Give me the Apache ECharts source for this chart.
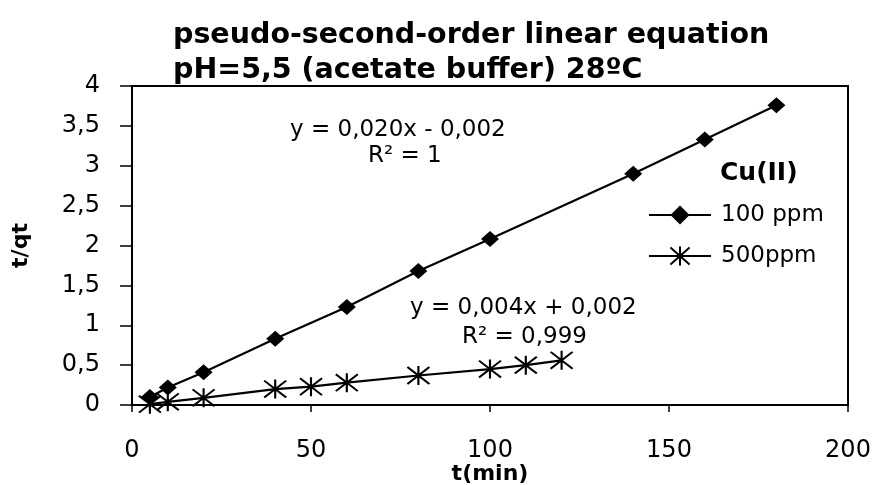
<!DOCTYPE html>
<html>
<head>
<meta charset="utf-8">
<script src="https://cdn.jsdelivr.net/npm/echarts@6/dist/echarts.min.js"></script>
<style>
  html, body { margin: 0; padding: 0; background: #fff; }
  #chart { width: 875px; height: 485px; }
</style>
</head>
<body>
<div id="chart"></div>
<script>
  // 100 ppm
  var time100 = [5, 10, 20, 40, 60, 80, 100, 140, 160, 180];
  var tq100 = [0.1, 0.22, 0.41, 0.83, 1.23, 1.68, 2.08, 2.9, 3.33, 3.76];
  // 500 ppm
  var time500 = [5, 10, 20, 40, 50, 60, 80, 100, 110, 120];
  var tq500 = [0.01, 0.04, 0.09, 0.2, 0.23, 0.28, 0.37, 0.45, 0.5, 0.56];
  var seriesNames = ['100 ppm', '500ppm'];

  var font = '"DejaVu Sans", sans-serif';
  var asterisk = 'path://M0,1L20,17M20,1L0,17M10,0L10,18';

  function pairs(xs, ys) {
    return xs.map(function (x, i) { return [x, ys[i]]; });
  }
  function comma(v) {
    return String(v).replace('.', ',');
  }
  function note(text, x, baseline) {
    return {
      type: 'text', x: x, y: baseline - 7,
      style: { text: text, font: '23px ' + font, fill: '#000', verticalAlign: 'middle' }
    };
  }

  var myChart = echarts.init(document.getElementById('chart'));
  var option = {
    backgroundColor: '#fff',
    animation: false,
    title: {
      text: 'pseudo-second-order linear equation\npH=5,5 (acetate buffer) 28ºC',
      left: 168,
      top: 13,
      textStyle: { fontFamily: font, fontSize: 28.5, fontWeight: 'bold', color: '#000', lineHeight: 35 }
    },
    grid: {
      left: 132, right: 27, top: 86, bottom: 80,
      outerBoundsMode: 'none',
      show: true, borderColor: '#000', borderWidth: 2
    },
    legend: {
      orient: 'vertical',
      left: 648, top: 203, padding: 0,
      itemWidth: 62, itemHeight: 24, itemGap: 17,
      textStyle: { fontFamily: font, fontSize: 23, color: '#000', lineHeight: 24, padding: [0, 0, 0, 5] },
      data: seriesNames
    },
    xAxis: {
      type: 'value', min: 0, max: 200, interval: 50,
      name: 't(min)', nameLocation: 'middle', nameGap: 58, nameMoveOverlap: false,
      nameTextStyle: { fontFamily: font, fontSize: 22, fontWeight: 'bold', color: '#000' },
      axisLine: { lineStyle: { color: '#000', width: 2 } },
      axisTick: { show: true, inside: false, length: 7, lineStyle: { color: '#000', width: 1.5 } },
      axisLabel: { fontFamily: font, fontSize: 24, color: '#000', margin: 34 },
      splitLine: { show: false }
    },
    yAxis: {
      type: 'value', min: 0, max: 4, interval: 0.5,
      name: 't/qt', nameLocation: 'middle', nameGap: 100, nameMoveOverlap: false,
      nameTextStyle: { fontFamily: font, fontSize: 22, fontWeight: 'bold', color: '#000' },
      axisLine: { show: true, lineStyle: { color: '#000', width: 2 } },
      axisTick: { show: true, inside: false, length: 12, lineStyle: { color: '#000', width: 1.5 } },
      axisLabel: { fontFamily: font, fontSize: 24, color: '#000', margin: 32, formatter: comma },
      splitLine: { show: false }
    },
    graphic: [
      note('y = 0,020x - 0,002', 290, 137),
      note('R² = 1', 368, 163),
      note('y = 0,004x + 0,002', 410, 315),
      note('R² = 0,999', 462, 344),
      {
        type: 'text', x: 720, y: 173,
        style: { text: 'Cu(II)', font: 'bold 25px ' + font, fill: '#000', verticalAlign: 'middle' }
      }
    ],
    series: [
      {
        name: seriesNames[0],
        type: 'line',
        data: pairs(time100, tq100),
        symbol: 'diamond',
        symbolSize: [18, 16],
        itemStyle: { color: '#000' },
        lineStyle: { color: '#000', width: 2.2 }
      },
      {
        name: seriesNames[1],
        type: 'line',
        data: pairs(time500, tq500),
        symbol: asterisk,
        symbolSize: [22, 19],
        itemStyle: { color: 'transparent', borderColor: '#000', borderWidth: 2 },
        lineStyle: { color: '#000', width: 2.2 }
      }
    ]
  };
  myChart.setOption(option);
</script>
</body>
</html>
